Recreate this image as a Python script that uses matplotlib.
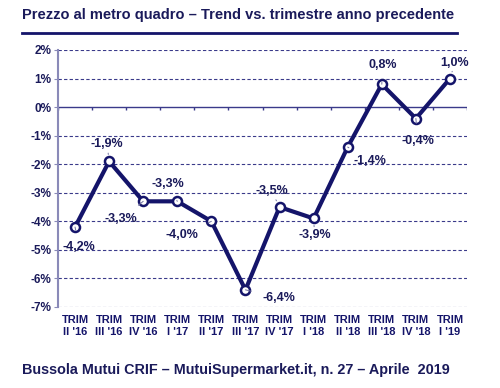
import numpy as np
import matplotlib.pyplot as plt

plt.rcParams['font.family'] = ['Liberation Sans', 'DejaVu Sans']
plt.rcParams['font.weight'] = 'bold'

quarters = ["TRIM\nII '16", "TRIM\nIII '16", "TRIM\nIV '16", "TRIM\nI '17",
            "TRIM\nII '17", "TRIM\nIII '17", "TRIM\nIV '17", "TRIM\nI '18",
            "TRIM\nII '18", "TRIM\nIII '18", "TRIM\nIV '18", "TRIM\nI '19"]
values = [-4.2, -1.9, -3.3, -3.3, -4.0, -6.4, -3.5, -3.9, -1.4, 0.8, -0.4, 1.0]
labels = ['-4,2%', '-1,9%', '-3,3%', '-3,3%', '-4,0%', '-6,4%',
          '-3,5%', '-3,9%', '-1,4%', '0,8%', '-0,4%', '1,0%']
# label offsets in pixels (dx, dy), y up
offsets = [(4, -20), (-2, 17), (-22, -18), (-9, 17), (-29, -14), (33, -8),
           (-8, 16), (1, -17), (22, -14), (1, 19), (2, -22), (5, 16)]
yticks = [2, 1, 0, -1, -2, -3, -4, -5, -6, -7]

navy = '#14146a'
text_c = '#1a1a5a'

fig = plt.figure(figsize=(5, 3.88), dpi=100)
ax = fig.add_axes([0.116, 0.2088, 0.818, 0.6624])

x = np.arange(len(values))
ax.set_xlim(-0.5, len(values) - 0.5)
ax.set_ylim(-7, 2)

for v in yticks:
    if v != 0:
        ax.axhline(v, color='#3a3a8a', lw=0.8, ls=(0, (3, 2)), zorder=1)
ax.axhline(0, color='#3a3a8a', lw=1.0, zorder=1)
ax.vlines(np.arange(len(values) + 1) - 0.5, -0.1, 0, color='#3a3a8a', lw=1.0, zorder=1)

ax.plot(x, values, color=navy, lw=3, marker='o', ms=6.5,
        mfc='white', mec=navy, mew=1.8, zorder=3)

for xi, v, lab, (dx, dy) in zip(x, values, labels, offsets):
    ax.annotate(lab, (xi, v), xytext=(dx, dy), textcoords='offset pixels',
                ha='center', va='center', fontsize=9, fontweight='bold',
                color=text_c,
                arrowprops=dict(arrowstyle='-', color='#7070a0', lw=0.7,
                                shrinkA=6, shrinkB=5))

for s in ['top', 'right', 'bottom']:
    ax.spines[s].set_visible(False)
ax.spines['left'].set_color('#8a8ab8')
ax.spines['left'].set_linewidth(1.5)

ax.set_yticks(yticks)
ax.set_yticklabels([f'{v}%' for v in yticks])
ax.tick_params(axis='y', length=3, color='#8a8ab8', labelsize=8.5,
               labelcolor=text_c, pad=2)
ax.set_xticks(x)
ax.set_xticklabels(quarters)
ax.tick_params(axis='x', length=0, labelsize=8, labelcolor=navy, pad=6)
for t in ax.get_yticklabels() + ax.get_xticklabels():
    t.set_fontweight('bold')

fig.text(0.045, 0.962, 'Prezzo al metro quadro \u2013 Trend vs. trimestre anno precedente',
         fontsize=10.5, fontweight='bold', color=text_c, va='center', ha='left')
fig.add_artist(plt.Line2D([0.044, 0.914], [0.915, 0.915], color=navy, lw=2))
fig.text(0.045, 0.046, 'Bussola Mutui CRIF \u2013 MutuiSupermarket.it, n. 27 \u2013 Aprile  2019',
         fontsize=10.4, fontweight='bold', color=text_c, va='center', ha='left')

fig.savefig('out.png', dpi=100)
